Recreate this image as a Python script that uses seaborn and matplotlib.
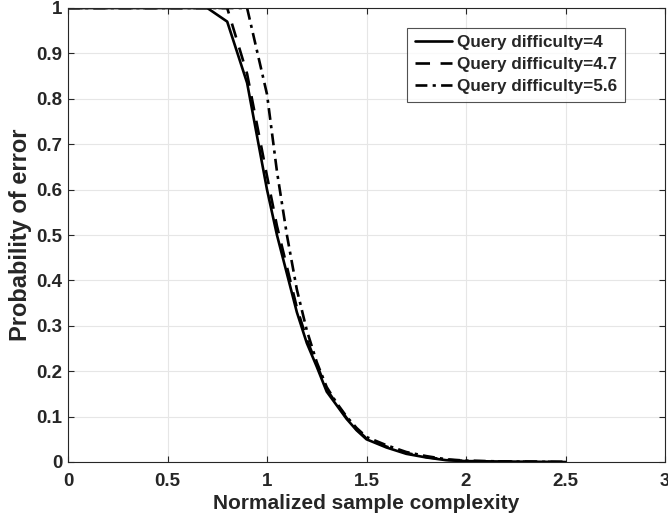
import numpy as np
import pandas as pd
import seaborn as sns
import matplotlib
matplotlib.use("Agg")
import matplotlib.pyplot as plt
from matplotlib.ticker import FormatStrFormatter

# values
x_d4 = [0, 0.7, 0.8, 0.9, 1.0, 1.05, 1.1, 1.15, 1.2, 1.25, 1.3, 1.35, 1.4, 1.45, 1.5,
        1.6, 1.7, 1.8, 1.9, 2.0, 2.2, 2.5]
p_d4 = [1, 1, 0.97, 0.835, 0.6, 0.5, 0.415, 0.33, 0.262, 0.21, 0.155, 0.125, 0.095, 0.07, 0.05,
        0.032, 0.018, 0.01, 0.004, 0.002, 0.001, 0.0]

x_d47 = [0, 0.8, 0.9, 1.0, 1.05, 1.1, 1.15, 1.2, 1.25, 1.3, 1.35, 1.4, 1.45, 1.5,
         1.6, 1.7, 1.8, 1.9, 2.0, 2.2, 2.5]
p_d47 = [1, 1, 0.855, 0.63, 0.52, 0.43, 0.34, 0.27, 0.215, 0.16, 0.128, 0.097, 0.072, 0.052,
         0.034, 0.02, 0.011, 0.005, 0.002, 0.001, 0.0]

x_d56 = [0, 0.9, 1.0, 1.05, 1.1, 1.15, 1.2, 1.25, 1.3, 1.35, 1.4, 1.45, 1.5,
         1.6, 1.7, 1.8, 1.9, 2.0, 2.2, 2.5]
p_d56 = [1, 1, 0.81, 0.64, 0.5, 0.38, 0.29, 0.22, 0.165, 0.13, 0.1, 0.075, 0.055,
         0.037, 0.022, 0.013, 0.006, 0.003, 0.001, 0.0]

labels = ["Query difficulty=4", "Query difficulty=4.7", "Query difficulty=5.6"]

frames = []
for lab, xs, ps in zip(labels, [x_d4, x_d47, x_d56], [p_d4, p_d47, p_d56]):
    frames.append(pd.DataFrame({"x": xs, "p": ps, "curve": lab}))
df = pd.concat(frames, ignore_index=True)

sns.set_style("whitegrid")
plt.rcParams['font.family'] = ['Liberation Sans', 'DejaVu Sans']
plt.rcParams['font.weight'] = 'bold'

fig = plt.figure(figsize=(6.68, 5.19), dpi=100)
ax = fig.add_axes([68 / 668, 1 - 462 / 519, 597 / 668, 454 / 519])

styles = ["-", (0, (5.5, 4)), (0, (4.5, 2, 1.2, 2))]
for lab, ls in zip(labels, styles):
    sub = df[df.curve == lab]
    sns.lineplot(data=sub, x="x", y="p", ax=ax, color="black", linewidth=1.9,
                 linestyle=ls, label=lab, estimator=None, sort=False)

ax.set_xlim(0, 3)
ax.set_ylim(0, 1)
ax.set_xticks(np.arange(0, 3.01, 0.5))
ax.set_yticks(np.arange(0, 1.01, 0.1))
ax.xaxis.set_major_formatter(FormatStrFormatter('%g'))
ax.yaxis.set_major_formatter(FormatStrFormatter('%g'))
ax.grid(True, color="#e6e6e6", linewidth=0.8)
for s in ax.spines.values():
    s.set_color("#262626")
    s.set_linewidth(0.8)
ax.tick_params(direction="in", length=4, labelsize=13.5, top=True, right=True,
               bottom=True, left=True, color="#262626")
ax.tick_params(axis="x", pad=8)
ax.tick_params(axis="y", pad=4)
for t in ax.get_xticklabels() + ax.get_yticklabels():
    t.set_fontweight('bold')

ax.set_xlabel("Normalized sample complexity", fontsize=15, fontweight='bold', labelpad=3)
ax.set_ylabel("Probability of error", fontsize=17, fontweight='bold', labelpad=3)

leg = ax.legend(loc="upper left", bbox_to_anchor=(0.568, 0.957), frameon=True,
                fancybox=False, edgecolor="#262626", fontsize=12.3, handlelength=2.2,
                handletextpad=0.3, borderpad=0.45, labelspacing=0.4, borderaxespad=0)
leg.get_frame().set_linewidth(0.8)
for t in leg.get_texts():
    t.set_fontweight('bold')

fig.savefig("out.png", dpi=100)
